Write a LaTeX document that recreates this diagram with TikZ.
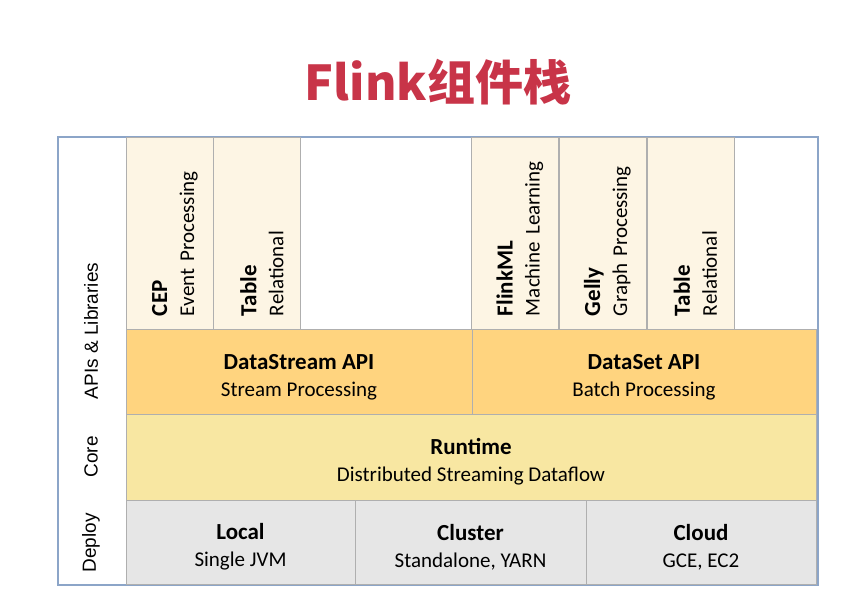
\documentclass[tikz,border=0pt]{standalone}
\usepackage{fontspec}
\setmainfont{Carlito}
\newfontfamily\sidefont{Liberation Sans}
\newfontfamily\cjk{Noto Sans CJK SC}
\usepackage{tikz}

\definecolor{titlered}{RGB}{200,52,72}
\definecolor{framecol}{RGB}{140,165,200}
\definecolor{boxline}{RGB}{175,175,175}
\definecolor{libfill}{RGB}{253,245,228}
\definecolor{apifill}{RGB}{255,212,127}
\definecolor{corefill}{RGB}{248,231,162}
\definecolor{deployfill}{RGB}{230,230,230}

\tikzset{
  layer/.style={draw=boxline, line width=0.8pt, inner sep=0pt, align=center,
    font=\fontsize{21}{27}\selectfont},
  libbox/.style={layer, fill=libfill, rotate=90, minimum width=192pt, minimum height=87pt,
    text width=166pt, inner xsep=13pt, align=left},
  apibox/.style={layer, fill=apifill, minimum height=85pt},
  corebox/.style={layer, fill=corefill, minimum height=86pt},
  deploybox/.style={layer, fill=deployfill, minimum height=84pt},
  sidelabel/.style={rotate=90, font=\sidefont\fontsize{19}{22}\selectfont}
}
% bold first line, with a strut that lowers the block a little
\newcommand{\hd}[1]{{\fontsize{23}{27}\selectfont\bfseries\rule{0pt}{26pt}#1}}

\begin{document}
\begin{tikzpicture}[x=1pt, y=-1pt]
\useasboundingbox (0,0) rectangle (862,608);
% title
\node[text=titlered, font=\cjk\bfseries\fontsize{48}{52}\selectfont] (title) at (438,82) {Flink组件栈};
% frame
\draw[framecol, line width=1.5pt] (58,137) rectangle (818,585);
% libraries
\node[libbox] (cep) at (169.5,233) {\hd{CEP}\\Event Processing};
\node[libbox] (tablestream) at (257,233) {\hd{Table}\\Relational};
\node[libbox] (flinkml) at (515,233) {\hd{FlinkML}\\Machine Learning};
\node[libbox] (gelly) at (602.5,233) {\hd{Gelly}\\Graph Processing};
\node[libbox] (tablebatch) at (690.5,233) {\hd{Table}\\Relational};
% APIs
\node[apibox, minimum width=346pt] (datastream) at (299,371.5) {\hd{DataStream API}\\Stream Processing};
\node[apibox, minimum width=344pt] (dataset) at (644,371.5) {\hd{DataSet API}\\Batch Processing};
% core
\node[corebox, minimum width=690pt] (runtime) at (471,457) {\hd{Runtime}\\Distributed Streaming Dataflow};
% deploy
\node[deploybox, minimum width=229pt] (local) at (240.5,542) {\hd{Local}\\Single JVM};
\node[deploybox, minimum width=231pt] (cluster) at (470.5,542) {\hd{Cluster}\\Standalone, YARN};
\node[deploybox, minimum width=230pt] (cloud) at (701,542) {\hd{Cloud}\\GCE, EC2};
% side labels
\node[sidelabel] (apilabel) at (91,331) {APIs \& Libraries};
\node[sidelabel] (corelabel) at (91,457) {Core};
\node[sidelabel] (deploylabel) at (91,543) {Deploy};
\end{tikzpicture}
\end{document}
